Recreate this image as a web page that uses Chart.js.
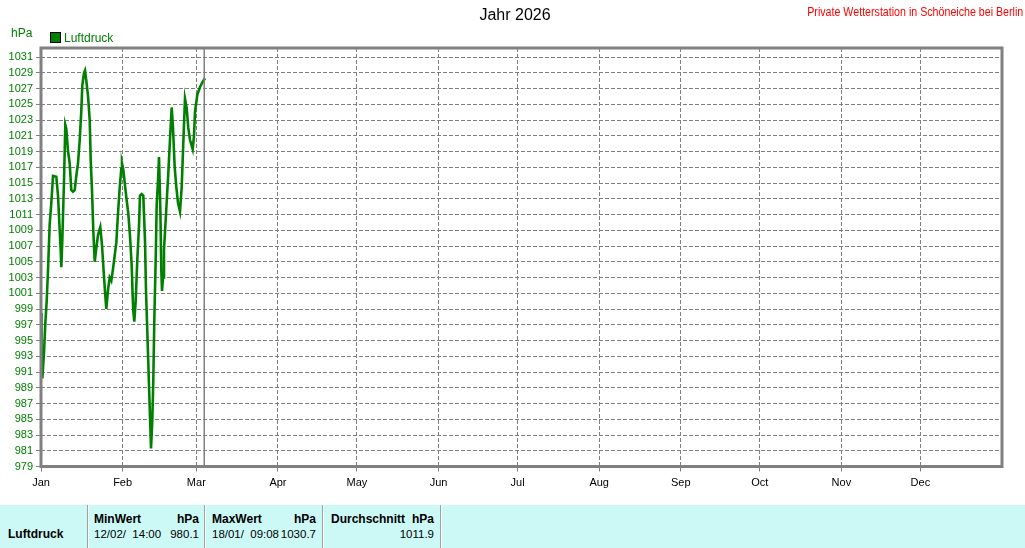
<!DOCTYPE html>
<html>
<head>
<meta charset="utf-8">
<script src="https://cdn.jsdelivr.net/npm/chart.js@4"></script>
<style>
  html, body { margin:0; padding:0; background:#fff; }
  body { width:1025px; height:548px; position:relative; overflow:hidden; font-family:"Liberation Sans", Arial, sans-serif; }
  #wrap { position:absolute; left:0; top:0; width:1025px; height:505px; }
  .abs { position:absolute; white-space:pre; line-height:14px; font-size:12px; }
  #title { left:0; width:1030px; top:5px; text-align:center; font-size:16px; line-height:20px; color:#000; }
  #station { right:2px; top:5px; font-size:12px; color:#ff0000; transform-origin:right center; }
  #unit { left:11px; top:26px; color:#008000; }
  #legbox { position:absolute; left:50px; top:32px; width:9px; height:9px; background:#008000; border:1px solid #000; }
  #legtxt { left:64px; top:31px; color:#008000; }
  #table { position:absolute; left:0; top:505px; width:1025px; height:43px; background:#ccf9f6; }
  .sep { position:absolute; top:0; width:1px; height:43px; background:#a0a0a0; border-right:1px solid #f0ffff; }
  .b { font-weight:bold; }
  .v { font-size:11.5px; }
</style>
</head>
<body>
<div id="wrap"><canvas id="c" width="1025" height="505"></canvas></div>
<div class="abs" id="title">Jahr 2026</div>
<div class="abs" id="station">Private Wetterstation in Schöneiche bei Berlin</div>
<div class="abs" id="unit">hPa</div>
<div id="legbox"></div>
<div class="abs" id="legtxt">Luftdruck</div>
<div id="table">
  <div class="sep" style="left:87px"></div>
  <div class="sep" style="left:204px"></div>
  <div class="sep" style="left:322px"></div>
  <div class="sep" style="left:440px"></div>
  <div class="abs b" style="left:8px; top:22px;">Luftdruck</div>
  <div class="abs b" style="left:94px; top:7px;">MinWert</div>
  <div class="abs b" style="left:170px; width:29px; text-align:right; top:7px;">hPa</div>
  <div class="abs v" style="left:94px; top:22px;">12/02/  14:00</div>
  <div class="abs v" style="left:160px; width:39px; text-align:right; top:22px;">980.1</div>
  <div class="abs b" style="left:212px; top:7px;">MaxWert</div>
  <div class="abs b" style="left:286px; width:30px; text-align:right; top:7px;">hPa</div>
  <div class="abs v" id="maxdate" style="left:212px; top:22px;">18/01/  09:08</div>
  <div class="abs v" style="left:270px; width:46px; text-align:right; top:22px;">1030.7</div>
  <div class="abs b" style="left:331px; top:7px;">Durchschnitt</div>
  <div class="abs b" style="left:404px; width:30px; text-align:right; top:7px;">hPa</div>
  <div class="abs v" style="left:380px; width:54px; text-align:right; top:22px;">1011.9</div>
</div>
<script>
// ---- data ----
const monthLabels = ["Jan","Feb","Mar","Apr","May","Jun","Jul","Aug","Sep","Oct","Nov","Dec"];
const monthStartDays = [0,31,59,90,120,151,181,212,243,273,304,334];
const yTickValues = [979,981,983,985,987,989,991,993,995,997,999,1001,1003,1005,1007,1009,1011,1013,1015,1017,1019,1021,1023,1025,1027,1029,1031];
const seriesName = "Luftdruck";
const days = [0, 0.2, 0.5, 1.14, 1.63, 2.16, 2.66, 3.30, 3.91, 4.56, 5.81, 6.46, 7.10, 7.48, 7.71, 8.09, 8.74, 9.23, 9.61, 10.25, 10.90, 11.51, 12.15, 12.80, 13.41, 14.05, 14.70, 15.31, 15.69, 16.33, 16.71, 17.2, 17.85, 18.5, 18.88, 19.37, 19.86, 20.4, 21.0, 21.65, 22.52, 23.17, 23.81, 24.42, 24.8, 25.45, 26.09, 26.7, 27.35, 27.99, 28.6, 29.24, 29.89, 30.5, 30.76, 31.26, 31.9, 32.55, 33.16, 33.8, 34.45, 34.75, 35.05, 35.43, 35.97, 36.57, 37.22, 37.6, 38.24, 38.85, 39.5, 39.88, 40.37, 41.02, 41.51, 41.78, 42.27, 42.65, 43.03, 43.56, 43.94, 44.44, 44.82, 45.31, 45.69, 45.96, 46.34, 46.71, 47.47, 48.23, 48.99, 49.64, 50.13, 50.78, 51.39, 52.03, 52.79, 53.44, 54.04, 54.69, 55.34, 55.94, 56.59, 57.61, 58.11, 58.49, 59.36, 60.39, 61.34, 62.29];
const pressure = [998.5, 993, 990.2, 993.5, 997.1, 1000, 1003.9, 1009.8, 1012.4, 1015.9, 1015.8, 1013.4, 1009, 1006.5, 1004.3, 1007.7, 1015.3, 1022.4, 1021.9, 1019.1, 1017.5, 1014.1, 1013.9, 1014.1, 1015.9, 1017.5, 1020.4, 1024.2, 1027.4, 1029, 1029.3, 1028, 1026.1, 1023, 1017.9, 1014.1, 1009, 1005, 1006.7, 1008.4, 1009.4, 1007.1, 1003.7, 1000.7, 999, 1001.4, 1003, 1002.6, 1004.1, 1005.8, 1007.4, 1011.1, 1014.4, 1016.8, 1017.5, 1016.7, 1014.7, 1012.8, 1011.1, 1008.3, 1004.5, 1001.3, 998.8, 997.4, 1000, 1005.2, 1009.6, 1013.4, 1013.6, 1013.4, 1007.7, 1001.3, 996.2, 989.3, 984.2, 981.3, 984.8, 989.9, 997.5, 1005.2, 1012.2, 1015.3, 1018.3, 1012, 1004, 1001.3, 1003, 1006.5, 1011, 1015.5, 1020.5, 1024.6, 1022, 1017, 1014.5, 1012.5, 1011.4, 1014.5, 1020, 1025.7, 1024.5, 1022, 1020.5, 1019.3, 1021, 1024, 1026.2, 1027.2, 1027.8, 1028.3];
const markerDay = 62.0;   // current-date marker line
const yMin = 979, yMax = 1032.15, xMin = 0, xMax = 365;

// fit texts to reference widths
function fitWidth(id, target, origin) {
  const el = document.getElementById(id);
  const w = el.getBoundingClientRect().width;
  if (w > target) { el.style.transformOrigin = origin; el.style.transform = 'scaleX(' + (target / w) + ')'; }
}
fitWidth('station', 216, 'right center');
fitWidth('maxdate', 67, 'left center');

const points = days.map((d, i) => ({ x: d, y: pressure[i] }));

const framePlugin = {
  id: 'frame',
  afterDatasetsDraw(chart) {
    const { ctx, chartArea: a, scales } = chart;
    ctx.save();
    const mx = scales.x.getPixelForValue(markerDay);
    ctx.strokeStyle = '#808080';
    ctx.lineWidth = 1.5;
    ctx.beginPath();
    ctx.moveTo(mx, a.top);
    ctx.lineTo(mx, a.bottom);
    ctx.stroke();
    ctx.lineWidth = 3;
    ctx.strokeStyle = '#808080';
    ctx.strokeRect(a.left, a.top, a.right - a.left, a.bottom - a.top);
    ctx.restore();
  }
};

new Chart(document.getElementById('c'), {
  type: 'line',
  data: {
    datasets: [{
      label: seriesName,
      data: points,
      borderColor: '#008000',
      backgroundColor: '#008000',
      borderWidth: 2.6,
      pointRadius: 0,
      tension: 0,
      fill: false
    }]
  },
  options: {
    responsive: false,
    maintainAspectRatio: false,
    animation: false,
    layout: { padding: { left: 0, top: 48, right: 23, bottom: 0 } },
    plugins: { legend: { display: false }, tooltip: { enabled: false }, title: { display: false } },
    scales: {
      x: {
        type: 'linear',
        min: xMin, max: xMax,
        afterBuildTicks(scale) { scale.ticks = monthStartDays.map(v => ({ value: v })); },
        afterFit(scale) { scale.height = 38.5; },
        ticks: {
          autoSkip: false,
          maxRotation: 0,
          padding: 5,
          color: '#000',
          font: { family: 'Liberation Sans', size: 11 },
          callback(value) { const i = monthStartDays.indexOf(value); return i >= 0 ? monthLabels[i] : ''; }
        },
        grid: { color: '#808080', lineWidth: 1, tickLength: 5, drawOnChartArea: true },
        border: { display: false, dash: [4, 2] }
      },
      y: {
        type: 'linear',
        min: yMin, max: yMax,
        afterBuildTicks(scale) { scale.ticks = yTickValues.map(v => ({ value: v })); },
        afterFit(scale) { scale.width = 41; },
        ticks: {
          autoSkip: false,
          padding: 3,
          color: '#008000',
          font: { family: 'Liberation Sans', size: 11 },
          callback(value) { return String(value); }
        },
        grid: { color: '#808080', lineWidth: 1, tickLength: 5 },
        border: { display: false, dash: [4, 2] }
      }
    }
  },
  plugins: [framePlugin]
});
</script>
</body>
</html>
